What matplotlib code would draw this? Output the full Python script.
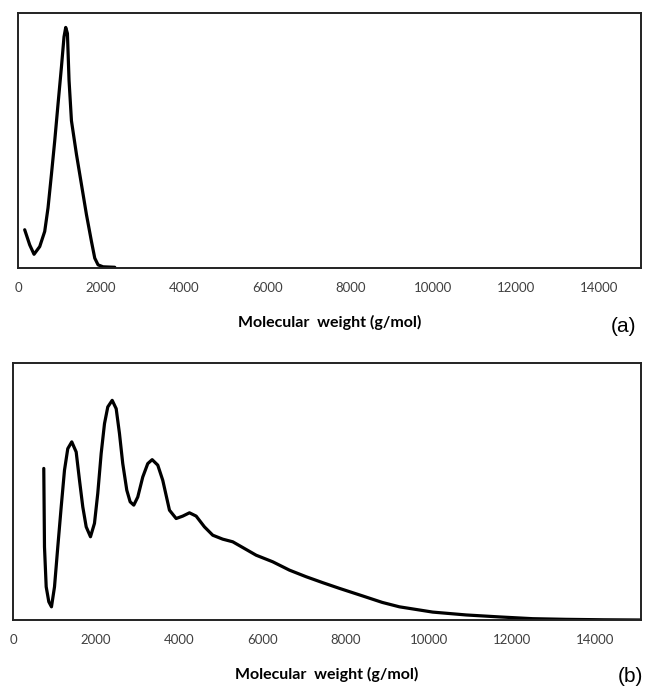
import matplotlib.pyplot as plt

# Panel (a): molecular weight vs. relative signal
mw_a = [161, 282, 386, 523, 643, 723, 805, 884, 964, 1046, 1108, 1149, 1190,
        1229, 1287, 1407, 1528, 1648, 1769, 1848, 1928, 2048, 2330]
sig_a = [0.159, 0.096, 0.057, 0.089, 0.152, 0.25, 0.389, 0.528, 0.682, 0.836,
         0.961, 1.0, 0.975, 0.78, 0.612, 0.473, 0.347, 0.222, 0.11, 0.041,
         0.013, 0.005, 0.003]

# Panel (b)
mw_b = [740, 757, 798, 861, 925, 998, 1077, 1159, 1238, 1317, 1413, 1519,
        1599, 1678, 1760, 1863, 1959, 2038, 2120, 2200, 2279, 2385, 2481,
        2560, 2639, 2736, 2817, 2904, 3000, 3120, 3240, 3346, 3481, 3601,
        3762, 3923, 4082, 4243, 4404, 4603, 4803, 5043, 5284, 5524, 5846,
        6245, 6647, 7048, 7447, 7849, 8400, 8880, 9291, 10091, 10894, 11695,
        12495, 13300, 14200, 15100]
sig_b = [0.690, 0.333, 0.151, 0.083, 0.060, 0.151, 0.333, 0.515, 0.682, 0.780,
         0.811, 0.765, 0.636, 0.515, 0.424, 0.379, 0.440, 0.576, 0.758, 0.894,
         0.970, 1.0, 0.962, 0.849, 0.712, 0.591, 0.538, 0.523, 0.560, 0.651,
         0.712, 0.730, 0.705, 0.636, 0.50, 0.462, 0.473, 0.488, 0.473, 0.424,
         0.386, 0.368, 0.356, 0.330, 0.295, 0.265, 0.227, 0.197, 0.170, 0.144,
         0.11, 0.08, 0.06, 0.036, 0.023, 0.014, 0.006, 0.003, 0.001, 0.0]

xticks = [0, 2000, 4000, 6000, 8000, 10000, 12000, 14000]

plt.rcParams['font.family'] = ['Lato', 'DejaVu Sans']

fig = plt.figure(figsize=(6.45, 6.87), dpi=100)
ax_a = fig.add_axes([18 / 645, 1 - 268 / 687, 623 / 645, 255 / 687])
ax_b = fig.add_axes([13 / 645, 1 - 620 / 687, 628 / 645, 257 / 687])


def style(ax, mw, sig, ytop, xmax, tag, tag_x, tag_y):
    ax.plot(mw, sig, color='black', lw=2.3, solid_joinstyle='round',
            solid_capstyle='round')
    ax.set_xlim(0, xmax)
    ax.set_ylim(0, ytop)
    ax.set_yticks([])
    ax.set_xticks(xticks)
    ax.set_xticklabels([str(t) for t in xticks])
    ax.tick_params(axis='x', length=0, pad=10, labelsize=9.5, labelcolor='#404040')
    for s in ax.spines.values():
        s.set_linewidth(1.4)
        s.set_color('#222222')
    ax.set_xlabel('Molecular  weight (g/mol)', fontsize=11.5, fontweight='bold',
                  labelpad=15)
    fig.text(tag_x / 645, 1 - tag_y / 687, tag, fontsize=15,
             family='Liberation Sans', ha='left', va='center')


style(ax_a, mw_a, sig_a, 1.06, 15000, '(a)', 611, 326)
style(ax_b, mw_b, sig_b, 1.17, 15100, '(b)', 618, 677)

plt.savefig('out.png', dpi=100)
